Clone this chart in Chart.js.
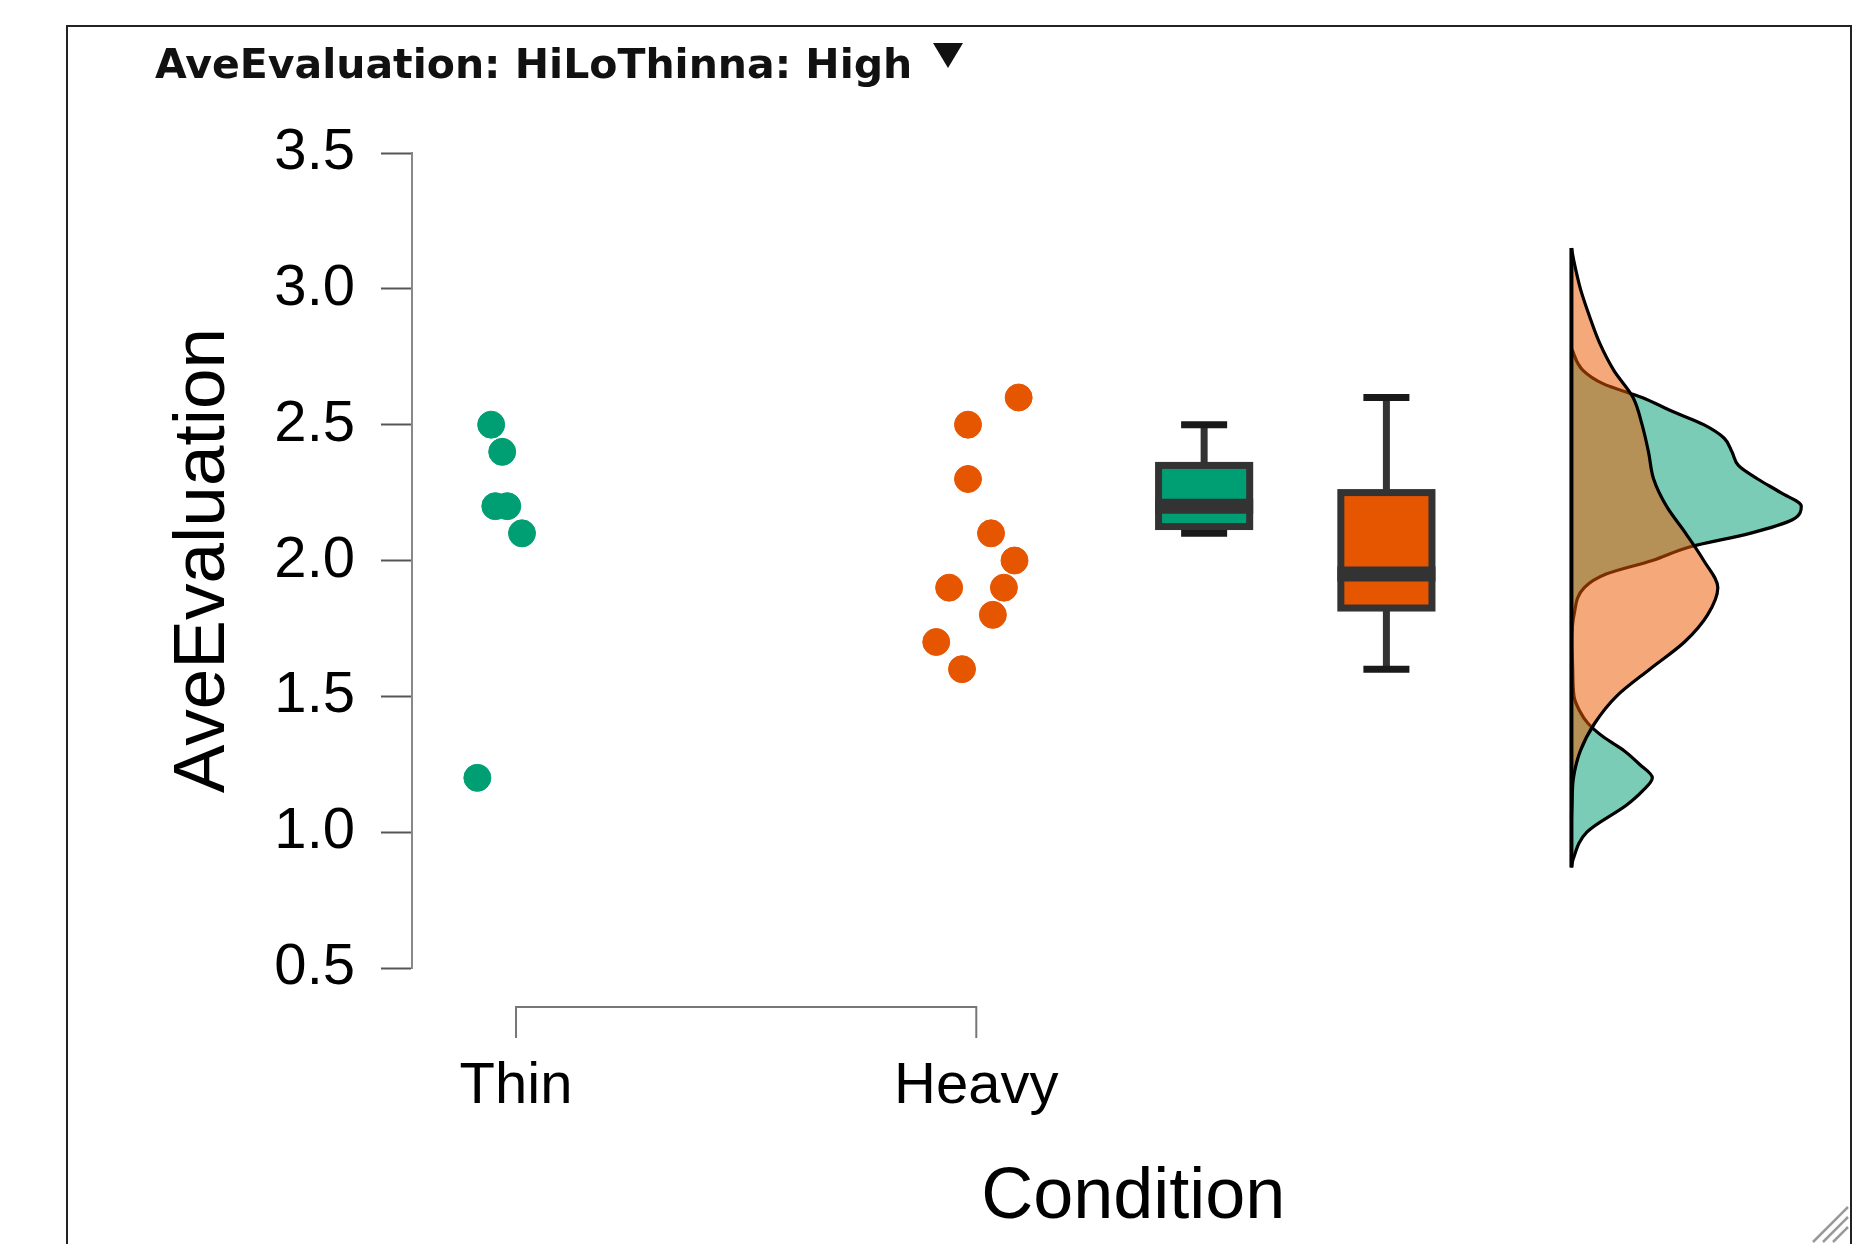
<!DOCTYPE html>
<html>
<head>
<meta charset="utf-8">
<script src="https://cdn.jsdelivr.net/npm/chart.js@4.4.1/dist/chart.umd.min.js"></script>
<style>
    body { margin: 0; background: #fff; overflow: hidden; }
    #wrap { position: relative; width: 1869px; height: 1244px; }
    #chart { position: absolute; left: 0; top: 0; }
    #frame { position: absolute; left: 66px; top: 25px; width: 1782px; height: 1300px;
             border: 2px solid #222; pointer-events: none; }
    #title { position: absolute; left: 155px; top: 44px; font: bold 41px "DejaVu Sans", sans-serif;
             line-height: 41px; color: #111; white-space: nowrap; }
    #arrow { position: absolute; left: 933px; top: 43px; width: 0; height: 0;
             border-left: 15px solid transparent; border-right: 15px solid transparent;
             border-top: 25px solid #111; }
    #grip { position: absolute; left: 1800px; top: 1195px; }
</style>
</head>
<body>
<div id="wrap">
    <canvas id="chart" width="1869" height="1244"></canvas>
    <div id="frame"></div>
    <div id="title">AveEvaluation: HiLoThinna: High</div>
    <div id="arrow"></div>
    <svg id="grip" width="60" height="49">
        <line x1="13" y1="47" x2="48" y2="12" stroke="#999" stroke-width="2.5"/>
        <line x1="23" y1="47" x2="48" y2="22" stroke="#999" stroke-width="2.5"/>
        <line x1="33" y1="47" x2="48" y2="32" stroke="#999" stroke-width="2.5"/>
    </svg>
</div>
<script>
// Data
const categories = ['Thin', 'Heavy'];
const yTicks = [0.5, 1.0, 1.5, 2.0, 2.5, 3.0, 3.5];

const thinValues = [2.5, 2.4, 2.2, 2.2, 2.1, 1.2];
const thinJitter = [-0.054, -0.030, -0.045, -0.019, 0.013, -0.084];
const heavyValues = [2.6, 2.5, 2.3, 2.1, 2.0, 1.9, 1.9, 1.8, 1.7, 1.6];
const heavyJitter = [0.092, -0.018, -0.018, 0.032, 0.083, -0.059, 0.060, 0.036, -0.087, -0.031];

// min, q1, median, q3, max
const thinBox = [2.1, 2.125, 2.2, 2.35, 2.5];
const heavyBox = [1.6, 1.825, 1.95, 2.25, 2.6];

// density curves (value level, density)
const thinDensityY = [2.78, 2.7, 2.65, 2.6, 2.55, 2.5, 2.45, 2.4, 2.35, 2.3, 2.25, 2.2, 2.15, 2.1, 2.05, 2.0, 1.95, 1.9, 1.8, 1.7, 1.6, 1.5, 1.45, 1.4, 1.35, 1.3, 1.25, 1.2, 1.15, 1.1, 1.0, 0.9, 0.87];
const thinDensity = [0, 0.09, 0.25, 0.55, 0.78, 1.03, 1.19, 1.25, 1.30, 1.45, 1.63, 1.79, 1.72, 1.39, 0.92, 0.63, 0.27, 0.10, 0.02, 0.004, 0.01, 0.02, 0.06, 0.13, 0.25, 0.41, 0.53, 0.63, 0.55, 0.43, 0.12, 0.013, 0];
const heavyDensityY = [3.15, 3.1, 3.0, 2.9, 2.8, 2.7, 2.6, 2.5, 2.4, 2.3, 2.2, 2.1, 2.0, 1.9, 1.8, 1.7, 1.6, 1.5, 1.4, 1.3, 1.2, 1.1, 1.05];
const heavyDensity = [0, 0.02, 0.07, 0.14, 0.22, 0.33, 0.48, 0.55, 0.60, 0.64, 0.74, 0.89, 1.03, 1.14, 1.06, 0.88, 0.61, 0.35, 0.18, 0.07, 0.016, 0.004, 0];
const densityRange = [3.15, 0.87];

// layout / style
const GREEN = '#009E73';
const ORANGE = '#E65500';
const BOX_POS = [2.495, 2.891];
const BOX_HALF = 0.099;
const CAP_HALF = 0.05;
const DENS_BASE = 3.293;
const DENS_SCALE = 0.279;

Chart.defaults.font.family = '"Liberation Sans", Arial, sans-serif';
Chart.defaults.color = '#000';

function densityPoints(levels, dens) {
    return levels.map((v, i) => ({ x: DENS_BASE + dens[i] * DENS_SCALE, y: v }));
}

const boxPlugin = {
    id: 'boxes',
    afterDatasetsDraw(chart) {
        const { ctx, scales: { x, y } } = chart;
        [[thinBox, GREEN, BOX_POS[0]], [heavyBox, ORANGE, BOX_POS[1]]].forEach(([b, col, pos]) => {
            const cx = x.getPixelForValue(pos);
            const left = x.getPixelForValue(pos - BOX_HALF);
            const right = x.getPixelForValue(pos + BOX_HALF);
            const capL = x.getPixelForValue(pos - CAP_HALF);
            const capR = x.getPixelForValue(pos + CAP_HALF);
            const [mn, q1, md, q3, mx] = b.map(v => y.getPixelForValue(v));
            ctx.save();
            ctx.lineCap = 'butt';
            // whiskers
            ctx.strokeStyle = '#333';
            ctx.lineWidth = 7;
            ctx.beginPath();
            ctx.moveTo(cx, mx); ctx.lineTo(cx, q3);
            ctx.moveTo(cx, q1); ctx.lineTo(cx, mn);
            ctx.stroke();
            // caps
            ctx.strokeStyle = '#1a1a1a';
            ctx.beginPath();
            ctx.moveTo(capL, mx); ctx.lineTo(capR, mx);
            ctx.moveTo(capL, mn); ctx.lineTo(capR, mn);
            ctx.stroke();
            // box
            ctx.fillStyle = col;
            ctx.fillRect(left, q3, right - left, q1 - q3);
            ctx.strokeStyle = '#333';
            ctx.lineWidth = 7;
            ctx.strokeRect(left, q3, right - left, q1 - q3);
            // median
            ctx.lineWidth = 15;
            ctx.beginPath();
            ctx.moveTo(left - 3.5, md); ctx.lineTo(right + 3.5, md);
            ctx.stroke();
            ctx.restore();
        });
    }
};

const bracketPlugin = {
    id: 'bracket',
    afterDraw(chart) {
        const { ctx, chartArea, scales: { x } } = chart;
        const x1 = x.getPixelForValue(1);
        const x2 = x.getPixelForValue(categories.length);
        const yb = chartArea.bottom + 39;
        ctx.save();
        ctx.strokeStyle = '#777';
        ctx.lineWidth = 2;
        ctx.beginPath();
        ctx.moveTo(x1, yb + 31); ctx.lineTo(x1, yb); ctx.lineTo(x2, yb); ctx.lineTo(x2, yb + 31);
        ctx.stroke();
        ctx.restore();
    }
};

const ctx = document.getElementById('chart').getContext('2d');
new Chart(ctx, {
    type: 'scatter',
    data: {
        datasets: [
            {
                label: 'Thin',
                data: thinValues.map((v, i) => ({ x: 1 + thinJitter[i], y: v })),
                backgroundColor: GREEN,
                borderColor: GREEN,
                borderWidth: 1,
                pointRadius: 13.5,
                order: 0
            },
            {
                label: 'Heavy',
                data: heavyValues.map((v, i) => ({ x: 2 + heavyJitter[i], y: v })),
                backgroundColor: ORANGE,
                borderColor: ORANGE,
                borderWidth: 1,
                pointRadius: 13.5,
                order: 0
            },
            {
                type: 'line',
                label: 'baseline',
                data: densityRange.map(v => ({ x: DENS_BASE, y: v })),
                borderColor: '#000',
                borderWidth: 4,
                pointRadius: 0,
                order: 1
            },
            {
                type: 'line',
                label: 'Heavy density',
                data: densityPoints(heavyDensityY, heavyDensity),
                indexAxis: 'y',
                fill: 'shape',
                backgroundColor: 'rgba(236, 90, 0, 0.52)',
                borderColor: '#000',
                borderWidth: 3.2,
                pointRadius: 0,
                cubicInterpolationMode: 'monotone',
                order: 2
            },
            {
                type: 'line',
                label: 'Thin density',
                data: densityPoints(thinDensityY, thinDensity),
                indexAxis: 'y',
                fill: 'shape',
                backgroundColor: 'rgba(0, 158, 115, 0.52)',
                borderColor: '#000',
                borderWidth: 3.2,
                pointRadius: 0,
                cubicInterpolationMode: 'monotone',
                order: 3
            }
        ]
    },
    options: {
        responsive: false,
        animation: false,
        devicePixelRatio: 1,
        layout: { padding: { top: 153, left: 0, right: 0, bottom: 0 } },
        plugins: {
            legend: { display: false },
            tooltip: { enabled: false }
        },
        scales: {
            x: {
                type: 'linear',
                min: 0.774,
                max: 3.908,
                afterBuildTicks: s => { s.ticks = categories.map((c, i) => ({ value: i + 1 })); },
                afterFit: s => { s.height = 276; },
                ticks: {
                    callback: v => categories[v - 1],
                    font: { size: 58 },
                    padding: 84,
                    maxRotation: 0
                },
                grid: { display: false, drawTicks: false },
                border: { display: false },
                title: {
                    display: true,
                    text: 'Condition',
                    font: { size: 72 },
                    padding: { top: 0, bottom: 3 }
                }
            },
            y: {
                min: 0.5,
                max: 3.5,
                afterBuildTicks: s => { s.ticks = yTicks.map(v => ({ value: v })); },
                afterFit: s => { s.width = 412; },
                ticks: {
                    callback: v => v.toFixed(1),
                    font: { size: 58 },
                    padding: 26
                },
                grid: {
                    drawOnChartArea: false,
                    drawTicks: true,
                    tickLength: 31,
                    tickColor: '#555',
                    tickWidth: 2
                },
                border: { color: '#888', width: 2 },
                title: {
                    display: true,
                    text: 'AveEvaluation',
                    font: { size: 73 },
                    padding: { top: 160, bottom: 0 }
                }
            }
        }
    },
    plugins: [boxPlugin, bracketPlugin]
});
</script>
</body>
</html>
